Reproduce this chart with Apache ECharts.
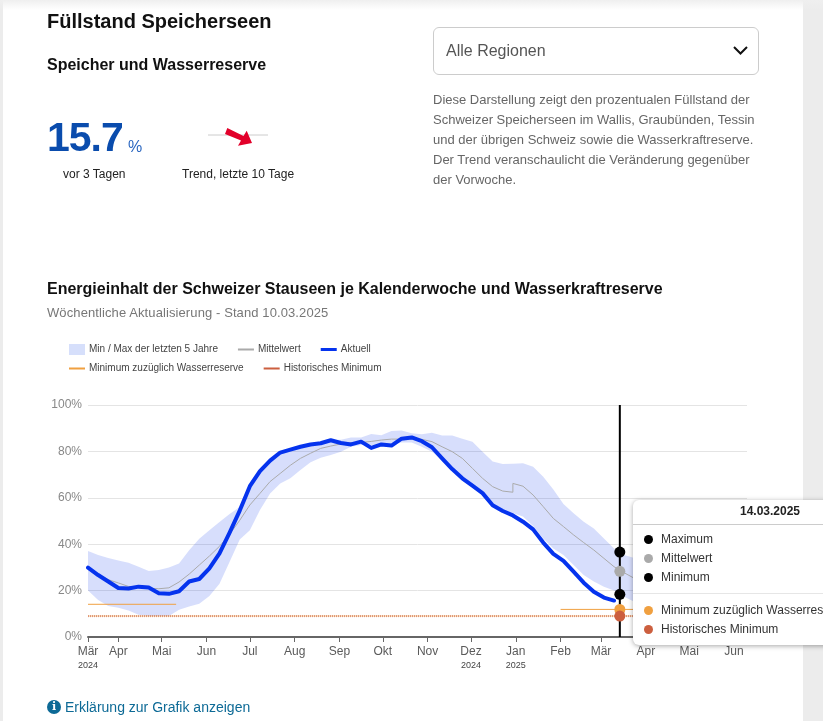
<!DOCTYPE html>
<html>
<head>
<meta charset="utf-8">
<title>Füllstand Speicherseen</title>
<script src="https://cdn.jsdelivr.net/npm/echarts@6/dist/echarts.min.js"></script>
<style>
  html, body { margin: 0; padding: 0; width: 823px; height: 721px; overflow: hidden; background: #ececec; font-family: "Liberation Sans", Arial, sans-serif; }
  #panel { position: absolute; left: 3px; top: 0; width: 800px; height: 721px; background: #fff; }
  #topshade { position: absolute; left: 0; top: 0; width: 823px; height: 10px; background: linear-gradient(#efefef, rgba(255,255,255,0)); }
  #main { position: absolute; left: 0; top: 0; width: 823px; height: 721px; }
  .t { position: absolute; white-space: nowrap; z-index: 2; }
  #selectbox { position: absolute; left: 433px; top: 27px; width: 324px; height: 46px; border: 1px solid #ccc; border-radius: 6px; z-index: 2; }
  #info { position: absolute; left: 433px; top: 90px; font-size: 13px; line-height: 20px; color: #666; white-space: nowrap; z-index: 2; }
  #tip { position: absolute; left: 633px; top: 500px; width: 274px; height: 145px; background: #fff; border-radius: 6px; box-shadow: 0 1px 5px rgba(0,0,0,.35); font-size: 12px; color: #333; z-index: 3; }
  #tip .head { height: 24px; line-height: 23px; text-align: center; font-weight: bold; color: #222; border-bottom: 1px solid #ccc; }
  #tip .row { position: absolute; left: 28px; white-space: nowrap; line-height: 14px; }
  #tip .dot { position: absolute; left: -17px; top: 2.5px; width: 9px; height: 9px; border-radius: 50%; }
  #tip .sep { position: absolute; left: 0; right: 0; top: 93px; border-top: 1px solid #e6e6e6; }
</style>
</head>
<body>
<div id="panel"></div>
<div id="topshade"></div>
<div id="main"></div>

<div class="t" style="left:47px;top:10px;font-size:20px;font-weight:bold;color:#111">Füllstand Speicherseen</div>
<div class="t" style="left:47px;top:56px;font-size:16px;font-weight:bold;color:#111">Speicher und Wasserreserve</div>
<div class="t" style="left:47px;top:114px;font-size:41px;font-weight:bold;letter-spacing:-1px;color:#0a4cad">15.7</div>
<div class="t" style="left:128px;top:138px;font-size:16px;color:#2a66c0">%</div>
<div class="t" style="left:63px;top:167px;font-size:12px;color:#222">vor 3 Tagen</div>
<div class="t" style="left:182px;top:167px;font-size:12px;color:#222">Trend, letzte 10 Tage</div>
<svg class="t" style="left:200px;top:120px" width="80" height="30">
  <line x1="8" y1="15" x2="68" y2="15" stroke="#ccc" stroke-width="1"/>
  <path d="M27.3 8 L43.5 16 L46.7 10.7 L52 23 L38 25.7 L41 20.5 L25 14 Z" fill="#e2002a"/>
</svg>

<div id="selectbox"></div>
<div class="t" style="left:446px;top:42px;font-size:16px;color:#555">Alle Regionen</div>
<svg class="t" style="left:732px;top:45px" width="18" height="12">
  <path d="M2 2 L8.5 8.5 L15 2" fill="none" stroke="#111" stroke-width="2"/>
</svg>
<div id="info">Diese Darstellung zeigt den prozentualen Füllstand der<br>Schweizer Speicherseen im Wallis, Graubünden, Tessin<br>und der übrigen Schweiz sowie die Wasserkraftreserve.<br>Der Trend veranschaulicht die Veränderung gegenüber<br>der Vorwoche.</div>

<div class="t" style="left:47px;top:280px;font-size:16px;font-weight:bold;color:#111">Energieinhalt der Schweizer Stauseen je Kalenderwoche und Wasserkraftreserve</div>
<div class="t" style="left:47px;top:305px;font-size:13px;color:#777;letter-spacing:0.1px">Wöchentliche Aktualisierung - Stand 10.03.2025</div>

<div class="t" style="left:47px;top:700px;width:14px;height:14px;border-radius:50%;background:#0d6a96;color:#fff;font-size:11px;font-weight:bold;line-height:14px;text-align:center;font-family:'DejaVu Serif',serif">i</div>
<div class="t" style="left:65px;top:699px;font-size:14px;color:#0d6a96">Erklärung zur Grafik anzeigen</div>

<div id="tip">
  <div class="head" id="tipHead"></div>
  <div id="tipRows"></div>
  <div class="sep"></div>
</div>

<script>
// Wochenwerte in Prozent, Start 11.03.2024
var startDate = '2024-03-11';
var axisEnd = '2025-06-10';

var aktuell = [29.9, 26.7, 23.9, 21.1, 20.9, 21.7, 21.3, 18.9, 18.6, 19.7, 23.9, 25, 29.6, 36, 45, 54.5, 65, 71.5, 76, 79.5, 80.8, 82, 83, 83.5, 84.8, 83.6, 83, 84.2, 81.5, 83, 82.5, 85.5, 86, 84.4, 81.8, 77, 72.4, 68.4, 65.2, 62, 56.8, 54.3, 52.4, 49.7, 46.4, 40.7, 35.8, 32.8, 28.2, 23.4, 19.5, 17, 15.7];

// Mittelwert springt beim Jahreswechsel, deshalb zwei Stuecke (beide enthalten Woche 42)
var mittelVorJahr = [30, 27, 24.7, 23.3, 21.8, 21.5, 21, 20.8, 21.2, 23.7, 27.1, 31, 34.9, 39.1, 44.3, 50.3, 56.9, 61.9, 67, 70.5, 74, 77, 79.2, 81.3, 82.3, 83.2, 83.8, 83.9, 84.3, 84.9, 85.3, 85.3, 85.4, 85.2, 84.2, 82, 79.9, 77, 72.7, 68.4, 64.8, 62.9, 62.4];
var mittelNachJahr = [66.2, 65, 61.2, 56.2, 51.1, 47.6, 44, 40.7, 37.5, 33.9, 30.3, 27.7, 25.3, 23.3, 21.8, 21.5, 21, 20.8, 21.2, 23.7, 27.1, 31, 34.9];

var maximum = [37.1, 35.3, 34, 33, 32, 30.3, 28.4, 28.9, 30, 31.7, 37.4, 42.4, 46, 49.6, 53, 56, 65, 71.5, 76, 80, 81, 82.2, 83.2, 84, 85, 85, 86, 86, 87.5, 87, 88.8, 89, 87.8, 87.4, 88, 86.8, 86.8, 85.5, 84.2, 79.9, 75.6, 74.6, 74.7, 74.9, 73.4, 69.1, 63.6, 57.3, 53.3, 49.7, 46.8, 42.5, 38.2, 35.3, 34, 33, 32, 30.3, 28.4, 28.9, 30, 31.7, 37.4, 42.4, 46];
var minimum = [20, 16, 13.4, 12.6, 11.4, 9.6, 9.1, 9.1, 9.1, 11.7, 13.1, 14.3, 17.7, 23, 32.4, 42, 46, 54.7, 61.9, 66.2, 68.4, 72, 75.3, 77.3, 78.4, 79.9, 82, 82.8, 82.8, 82.8, 83.2, 83.8, 83.8, 82, 79.9, 76.3, 72, 67.7, 64.5, 61.2, 56.9, 54.7, 53.3, 51.9, 47.8, 42.5, 38.2, 35.3, 31, 26.7, 23.9, 21.7, 20, 17.4, 15.2, 12.6, 11.4, 9.6, 9.1, 9.1, 9.1, 11.7, 13.1, 14.3, 17.7];

var reserveDates = ['2024-03-11', '2024-05-11', null, '2025-02-01', axisEnd];
var reserveValues = [14.1, 14.1, null, 11.9, 11.9];
var histMinDates = [startDate, axisEnd];
var histMinValues = [9, 9];

var tickDates = ['2024-03-11', '2024-04-01', '2024-05-01', '2024-06-01', '2024-07-01', '2024-08-01', '2024-09-01', '2024-10-01', '2024-11-01', '2024-12-01', '2025-01-01', '2025-02-01', '2025-03-01', '2025-04-01', '2025-05-01', '2025-06-01'];
var tickMonths = ['Mär', 'Apr', 'Mai', 'Jun', 'Jul', 'Aug', 'Sep', 'Okt', 'Nov', 'Dez', 'Jan', 'Feb', 'Mär', 'Apr', 'Mai', 'Jun'];
var tickYears = ['2024', '', '', '', '', '', '', '', '', '2024', '2025', '', '', '', '', ''];

// Fadenkreuz mit Tooltip
var cursorDate = '2025-03-14';
var cursorTitle = '14.03.2025';
var cursorNames = ['Maximum', 'Mittelwert', 'Minimum', 'Minimum zuzüglich Wasserreserve', 'Historisches Minimum'];
var cursorValues = [36.6, 28.3, 18.4, 11.9, 9];
var cursorColors = ['#000', '#aaa', '#000', '#f0a040', '#cc5f3f'];

function ts(s) { return new Date(s).getTime(); }
function weekTs(i) { return ts(startDate) + i * 7 * 24 * 3600 * 1000; }

var aktuellData = aktuell.map(function (v, i) { return [weekTs(i), v]; });
var mittelData = mittelVorJahr.map(function (v, i) { return [weekTs(i), v]; })
    .concat(mittelNachJahr.map(function (v, i) { return [weekTs(i + 42), v]; }));
var bandData = maximum.map(function (v, i) { return [weekTs(i), minimum[i], v]; });
var reserveData = reserveDates.map(function (d, i) { return d ? [ts(d), reserveValues[i]] : [null, null]; });
var histMinData = histMinDates.map(function (d, i) { return [ts(d), histMinValues[i]]; });

var tickTs = tickDates.map(ts);

var NAME_BAND = 'Min / Max der letzten 5 Jahre';
var NAME_MEAN = 'Mittelwert';
var NAME_NOW = 'Aktuell';
var NAME_RES = 'Minimum zuzüglich Wasserreserve';
var NAME_HIST = 'Historisches Minimum';

// duenner Strich als Legendensymbol, die leeren Teilpfade halten die Hoehe
function lineIcon(h) {
    var y = (11 - h) / 2;
    return 'path://M0 0h16v0h-16z M0 ' + y + 'h16v' + h + 'h-16z M0 11h16v0h-16z';
}

var legendBase = {
    orient: 'horizontal', left: 69, padding: 0, itemWidth: 16, itemHeight: 11, itemGap: 20,
    textStyle: { fontSize: 10, color: '#444', fontFamily: 'Liberation Sans', padding: [0, 0, 0, -1] },
    selectedMode: false
};

var myChart = echarts.init(document.getElementById('main'));

myChart.setOption({
    animation: false,
    backgroundColor: 'transparent',
    textStyle: { fontFamily: 'Liberation Sans' },
    grid: { left: 88, right: 76, top: 405, bottom: 84 },
    legend: [
        Object.assign({}, legendBase, {
            top: 344,
            data: [
                { name: NAME_BAND, icon: 'rect', itemStyle: { color: '#d6dffb' } },
                { name: NAME_MEAN, icon: lineIcon(2), itemStyle: { color: '#aaa' } },
                { name: NAME_NOW, icon: lineIcon(3), itemStyle: { color: '#0533ee' } }
            ]
        }),
        Object.assign({}, legendBase, {
            top: 363,
            data: [
                { name: NAME_RES, icon: lineIcon(2), itemStyle: { color: '#f0a040' } },
                { name: NAME_HIST, icon: lineIcon(2), itemStyle: { color: '#cc5f3f' } }
            ]
        })
    ],
    // Wertachse mit Zeitstempeln, damit die Monatsticks frei gesetzt werden koennen
    xAxis: {
        type: 'value',
        min: ts(startDate),
        max: ts(axisEnd),
        splitLine: { show: false },
        axisLine: { lineStyle: { color: '#666', width: 2 } },
        axisTick: { show: true, length: 5, customValues: tickTs, lineStyle: { color: '#666', width: 1 } },
        axisLabel: {
            customValues: tickTs,
            hideOverlap: false,
            showMinLabel: true,
            showMaxLabel: true,
            margin: 8,
            formatter: function (value) {
                var i = tickTs.indexOf(value);
                if (i < 0) return '';
                return tickYears[i] ? '{m|' + tickMonths[i] + '}\n{y|' + tickYears[i] + '}' : '{m|' + tickMonths[i] + '}';
            },
            rich: {
                m: { fontSize: 12, color: '#5a5a5a', lineHeight: 14 },
                y: { fontSize: 9, color: '#444', lineHeight: 14 }
            },
            verticalAlign: 'top'
        }
    },
    yAxis: {
        type: 'value',
        min: 0,
        max: 100,
        interval: 20,
        axisLine: { show: false },
        axisTick: { show: false },
        splitLine: { lineStyle: { color: '#e4e4e4', width: 1 } },
        axisLabel: { color: '#888', fontSize: 12, margin: 6, formatter: '{value}%' }
    },
    series: [
        { name: NAME_BAND, type: 'custom', data: bandData, encode: { x: 0, y: [1, 2] }, z: 1,
          itemStyle: { color: '#d6dffb' },
          renderItem: function (params, api) {
              // ganzes Band als ein Polygon, nur beim ersten Datenpunkt
              if (params.dataIndex !== 0) return;
              var top = bandData.map(function (d) { return api.coord([d[0], d[2]]); });
              var bottom = bandData.map(function (d) { return api.coord([d[0], d[1]]); }).reverse();
              return { type: 'polygon', shape: { points: top.concat(bottom) }, style: { fill: 'rgba(5,51,238,0.16)' } };
          } },
        { name: NAME_MEAN, type: 'line', symbol: 'none', data: mittelData, color: '#aaa', lineStyle: { width: 1 }, z: 3 },
        { name: NAME_RES, type: 'line', symbol: 'none', data: reserveData, color: '#f0a040', lineStyle: { width: 1 }, connectNulls: false, z: 3 },
        { name: 'reserveUnter', type: 'line', symbol: 'none', data: histMinData, color: '#f0a040', lineStyle: { width: 2, opacity: 0.3 }, z: 3 },
        { name: NAME_HIST, type: 'line', symbol: 'none', data: histMinData, color: '#cc5f3f', lineStyle: { width: 2, type: [1, 1], opacity: 0.6 }, z: 3 },
        { name: NAME_NOW, type: 'line', symbol: 'none', data: aktuellData, color: '#0533ee', lineStyle: { width: 4, cap: 'round', join: 'round' }, z: 4 },
        { name: 'cursor', type: 'line', symbol: 'none', data: [[ts(cursorDate), 0], [ts(cursorDate), 100]], color: '#000', lineStyle: { width: 2 }, z: 5 },
        { name: 'cursorPunkte', type: 'scatter', symbolSize: 11, z: 6,
          data: cursorValues.map(function (v, i) { return { value: [ts(cursorDate), v], itemStyle: { color: cursorColors[i], opacity: 1 } }; }) }
    ]
});

// Tooltip als festes Kaestchen neben dem Fadenkreuz
document.getElementById('tipHead').textContent = cursorTitle;
var rowTops = [32, 51, 70, 103, 122];
document.getElementById('tipRows').innerHTML = cursorNames.map(function (name, i) {
    return '<div class="row" style="top:' + rowTops[i] + 'px"><span class="dot" style="background:' + cursorColors[i] + '"></span>' + name + '</div>';
}).join('');
</script>
</body>
</html>
